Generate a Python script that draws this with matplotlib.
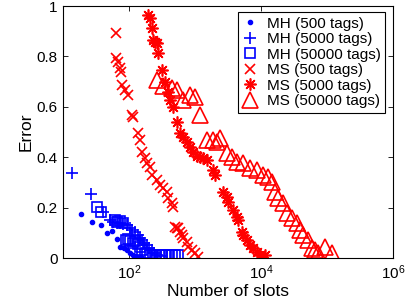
import matplotlib
matplotlib.use("Agg")
import matplotlib.pyplot as plt
from matplotlib.ticker import FixedLocator, FixedFormatter, NullLocator

plt.rcParams['font.family'] = ['Liberation Sans', 'DejaVu Sans']
plt.rcParams['mathtext.default'] = 'regular'

# ---- data ----
mh500_x = [18.7, 27.8, 37, 47, 56, 65, 74, 84, 93, 103, 113, 125, 135, 150]
mh500_y = [0.173, 0.142, 0.131, 0.098, 0.106, 0.075, 0.043, 0.038, 0.030, 0.020, 0.012, 0.008, 0.005, 0.003]

mh5000_x = [13.5, 26.3, 40.8, 52, 58, 66, 73, 82, 92, 103, 110, 123, 135, 145, 158, 170, 185, 200, 220, 240, 265, 290]
mh5000_y = [0.336, 0.254, 0.184, 0.150, 0.144, 0.140, 0.138, 0.135, 0.131, 0.118, 0.110, 0.104, 0.090, 0.080,
            0.070, 0.060, 0.050, 0.040, 0.030, 0.020, 0.012, 0.008]

mh50000_x = [32.4, 37.2, 62, 66, 73, 80, 90, 97, 105, 115, 125, 135, 145, 160, 175, 190, 210, 235, 260, 290,
             320, 360, 400, 450, 500, 560]
mh50000_y = [0.204, 0.184, 0.150, 0.144, 0.148, 0.140, 0.072, 0.075, 0.068, 0.060, 0.068, 0.055, 0.045, 0.030,
             0.020, 0.015, 0.013, 0.012, 0.012, 0.012, 0.012, 0.012, 0.012, 0.012, 0.012, 0.012]

ms500_x = [63.5, 63.5, 69, 73, 75, 77.5, 87, 97.5, 110, 116, 138, 147, 156, 175, 185, 208, 221, 263, 295, 331,
           372, 394, 443, 469, 498, 530, 558, 593, 629, 665, 748, 791, 891, 1000, 1122]
ms500_y = [0.892, 0.792, 0.779, 0.753, 0.739, 0.687, 0.667, 0.647, 0.567, 0.561, 0.495, 0.468, 0.422, 0.396,
           0.376, 0.362, 0.329, 0.310, 0.290, 0.277, 0.263, 0.237, 0.217, 0.204, 0.125, 0.120, 0.118, 0.104,
           0.091, 0.078, 0.065, 0.045, 0.032, 0.019, 0.005]

ms5000_x = [196, 208, 221, 234, 248, 263, 278, 313, 351, 394, 418, 469, 528, 593, 665, 748, 839, 935, 1075,
            1190, 1337, 1503, 1893, 2009, 2685, 3019, 3197, 3804, 4281, 4532, 5100, 5400, 6072, 6812, 7647,
            8600, 9660, 11480]
ms5000_y = [0.964, 0.951, 0.912, 0.865, 0.858, 0.852, 0.815, 0.746, 0.700, 0.660, 0.627, 0.600, 0.541, 0.495,
            0.481, 0.462, 0.442, 0.420, 0.405, 0.400, 0.395, 0.389, 0.349, 0.329, 0.263, 0.243, 0.223, 0.190,
            0.164, 0.151, 0.104, 0.091, 0.071, 0.052, 0.038, 0.025, 0.012, 0.010]

ms50000_x = [263, 331, 443, 528, 665, 839, 1000, 1191, 1503, 1893, 2133, 2393, 3019, 3597, 4281, 5395, 6812,
             8600, 10840, 12900, 14520, 16300, 18280, 21780, 24490, 29160, 34740, 38990, 43750, 52110, 58620,
             65760, 73830, 93300, 117800]
ms50000_y = [0.706, 0.683, 0.673, 0.667, 0.627, 0.647, 0.640, 0.567, 0.468, 0.468, 0.462, 0.475, 0.415, 0.402,
             0.382, 0.376, 0.356, 0.349, 0.329, 0.323, 0.303, 0.263, 0.237, 0.217, 0.177, 0.157, 0.138, 0.111,
             0.091, 0.071, 0.038, 0.032, 0.019, 0.045, 0.019]

labels = ['MH (500 tags)', 'MH (5000 tags)', 'MH (50000 tags)',
          'MS (500 tags)', 'MS (5000 tags)', 'MS (50000 tags)']
xticks = [1e2, 1e4, 1e6]
xticklabels = ['$10^{2}$', '$10^{4}$', '$10^{6}$']
yticks = [0, 0.2, 0.4, 0.6, 0.8, 1]
yticklabels = ['0', '0.2', '0.4', '0.6', '0.8', '1']

fig = plt.figure(figsize=(4.11, 3.01), dpi=100)
ax = fig.add_axes([63/411, 43/301, 330/411, 252/301])

blue = (0, 0, 1)
red = (1, 0, 0)
kw = dict(linestyle='none', markerfacecolor='none', markeredgewidth=1.2)
ax.plot(mh500_x, mh500_y, marker='.', color=blue, markersize=6, linestyle='none', label=labels[0])
ax.plot(mh5000_x, mh5000_y, marker='+', color=blue, markersize=8.6, label=labels[1], **kw)
ax.plot(mh50000_x, mh50000_y, marker='s', color=blue, markersize=7, label=labels[2], **kw)
ax.plot(ms500_x, ms500_y, marker='x', color=red, markersize=7, label=labels[3], **kw)
ax.plot(ms5000_x, ms5000_y, marker=(8, 2, 0), color=red, markersize=8.6, label=labels[4], **kw)
ax.plot(ms50000_x, ms50000_y, marker='^', color=red, markersize=11, label=labels[5], **kw)

ax.set_xscale('log')
ax.set_xlim(10, 1e6)
ax.set_ylim(0, 1)
ax.xaxis.set_major_locator(FixedLocator(xticks))
ax.xaxis.set_major_formatter(FixedFormatter(xticklabels))
ax.xaxis.set_minor_locator(NullLocator())
ax.set_yticks(yticks)
ax.set_yticklabels(yticklabels)
ax.tick_params(direction='in', length=3.5, width=0.6, top=True, right=True, labelsize=11, pad=4)
for s in ax.spines.values():
    s.set_linewidth(0.8)

ax.set_xlabel('Number of slots', fontsize=12.5, labelpad=1)
ax.set_ylabel('Error', fontsize=12.5, labelpad=2)

leg = ax.legend(loc='upper right', bbox_to_anchor=(0.976, 0.976), fontsize=11, frameon=True,
                fancybox=False, framealpha=1, edgecolor='black', borderaxespad=0,
                labelspacing=0.1, handlelength=1.0, handletextpad=0.6, borderpad=0.3)
leg.get_frame().set_linewidth(0.8)

fig.savefig('out.png', dpi=100)
